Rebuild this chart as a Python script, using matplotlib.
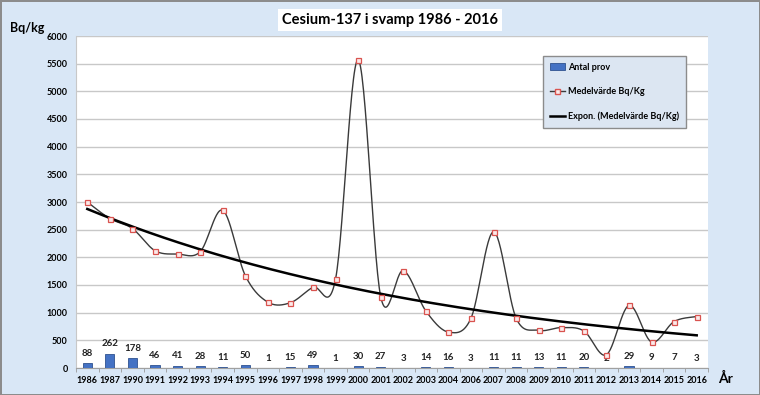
import numpy as np
import matplotlib
matplotlib.use("Agg")
import matplotlib.pyplot as plt
from matplotlib.lines import Line2D
from matplotlib.patches import Patch

plt.rcParams['font.family'] = ['Lato', 'DejaVu Sans']

years = ['1986', '1987', '1990', '1991', '1992', '1993', '1994', '1995', '1996', '1997',
         '1998', '1999', '2000', '2001', '2002', '2003', '2004', '2006', '2007', '2008',
         '2009', '2010', '2011', '2012', '2013', '2014', '2015', '2016']
antal_prov = [88, 262, 178, 46, 41, 28, 11, 50, 1, 15, 49, 1, 30, 27, 3, 14, 16, 3,
              11, 11, 13, 11, 20, 2, 29, 9, 7, 3]
medelvarde = [3000, 2700, 2520, 2120, 2060, 2100, 2850, 1670, 1190, 1180, 1460, 1610,
              5570, 1290, 1760, 1030, 650, 900, 2460, 900, 680, 730, 670, 240, 1130,
              470, 840, 930]
yticks = list(range(0, 6001, 500))


def smooth(x, y, n=30):
    # bezier smoothing through the points, like Excel's smoothed line
    p = np.column_stack([x, y]).astype(float)
    p = np.vstack([p[0], p, p[-1]])
    out = []
    t = np.linspace(0, 1, n)[:, None]
    for i in range(1, len(p) - 2):
        p0, p1, p2, p3 = p[i - 1], p[i], p[i + 1], p[i + 2]
        c1 = p1 + (p2 - p0) / 6
        c2 = p2 - (p3 - p1) / 6
        seg = ((1 - t) ** 3) * p1 + 3 * ((1 - t) ** 2) * t * c1 + 3 * (1 - t) * t ** 2 * c2 + t ** 3 * p2
        out.append(seg)
    out = np.vstack(out)
    return out[:, 0], out[:, 1]


fig = plt.figure(figsize=(7.6, 3.95), dpi=100)
fig.patch.set_facecolor('#d9e7f6')
fig.patch.set_edgecolor('#8c8c8c')
fig.patch.set_linewidth(2)

ax = fig.add_axes([76 / 760, 1 - 368 / 395, (708 - 76) / 760, (368 - 36) / 395])
ax.set_facecolor('white')

x = np.arange(len(years))

bars = ax.bar(x, antal_prov, width=0.4, color='#4472c4', edgecolor='#2f528f', linewidth=0.6,
              zorder=3)
for xi, v in zip(x, antal_prov):
    ax.text(xi, v + 95, str(v), ha='center', va='bottom', fontsize=7, fontweight='bold',
            color='#222222', zorder=5)

sx, sy = smooth(x, medelvarde)
ax.plot(sx, sy, color='#3a3a3a', lw=1.0, zorder=4)
ax.plot(x, medelvarde, ls='none', marker='s', ms=3.6, mfc='#fbeaea', mec='#d9534f',
        mew=0.9, zorder=6)

# exponential trend line (fit on ln y)
xi = x + 1
b, a = np.polyfit(xi, np.log(medelvarde), 1)
tx = np.linspace(1, len(years), 200)
ax.plot(tx - 1, np.exp(a + b * tx), color='black', lw=1.8, zorder=5)

ax.set_xlim(-0.5, len(years) - 0.5)
ax.set_ylim(0, 6000)
ax.set_yticks(yticks)
ax.set_yticklabels([str(v) for v in yticks], fontsize=6.5, fontweight='bold')
ax.set_xticks(x)
ax.set_xticklabels(years, fontsize=6.5, fontweight='bold')
ax.set_xticks(np.arange(-0.5, len(years), 1), minor=True)
ax.tick_params(axis='x', which='major', length=0, pad=6)
ax.tick_params(axis='x', which='minor', length=3, color='#999999')
ax.tick_params(axis='y', length=0, pad=6)
ax.grid(axis='y', color='#c8c8c8', lw=1.0, zorder=0)
for s in ['top', 'right']:
    ax.spines[s].set_visible(False)
ax.spines['left'].set_color('#c8c8c8')
ax.spines['bottom'].set_color('#a0a0a0')

fig.text(390 / 760, 1 - 20 / 395, 'Cesium-137 i svamp 1986 - 2016', ha='center', va='center',
         fontsize=10.5, fontweight='bold',
         bbox=dict(facecolor='white', edgecolor='none', pad=3))
fig.text(10 / 760, 1 - 28 / 395, 'Bq/kg', ha='left', va='center', fontsize=9,
         fontweight='bold')
fig.text(718 / 760, 1 - 378 / 395, 'År', ha='left', va='center', fontsize=10,
         fontweight='bold')

handles = [Patch(facecolor='#4472c4', edgecolor='#2f528f', linewidth=0.6),
           Line2D([], [], color='#3a3a3a', lw=1, marker='s', ms=3.6, mfc='#fbeaea', mec='#d9534f'),
           Line2D([], [], color='black', lw=1.8)]
labels = ['Antal prov', 'Medelvärde Bq/Kg', 'Expon. (Medelvärde Bq/Kg)']
leg = ax.legend(handles, labels, loc='upper left', bbox_to_anchor=((538 - 76) / 632, 1 - (51 - 36) / 332),
                prop={'size': 6.5, 'weight': 'bold'}, frameon=True, fancybox=False,
                handlelength=1.7, handletextpad=0.3, labelspacing=1.7, borderpad=0.8)
leg.get_frame().set_facecolor('#dce6f2')
leg.get_frame().set_edgecolor('#8c8c8c')
leg.get_frame().set_alpha(1)
leg.set_zorder(10)

fig.savefig('out.png', dpi=100, facecolor=fig.get_facecolor(), edgecolor=fig.get_edgecolor())
